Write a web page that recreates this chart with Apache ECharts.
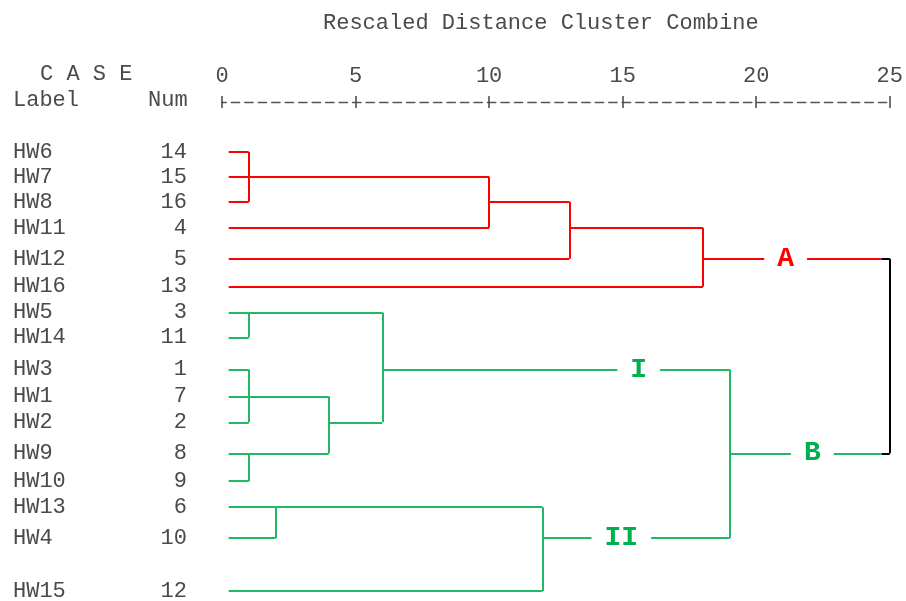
<!DOCTYPE html>
<html>
<head>
<meta charset="utf-8">
<script src="https://cdn.jsdelivr.net/npm/echarts@6/dist/echarts.min.js"></script>
<style>
  html, body { margin: 0; padding: 0; background: #fff; }
  #chart { width: 906px; height: 601px; }
</style>
</head>
<body>
<div id="chart"></div>
<script>
// cases, top to bottom as listed in the dendrogram
const caseLabels = ['HW6', 'HW7', 'HW8', 'HW11', 'HW12', 'HW16', 'HW5', 'HW14', 'HW3', 'HW1', 'HW2', 'HW9', 'HW10', 'HW13', 'HW4', 'HW15'];
const caseNums = [14, 15, 16, 4, 5, 13, 3, 11, 1, 7, 2, 8, 9, 6, 10, 12];
// row position of each case (text lines below the scale line)
const rowPos = [2.0, 3.0, 4.0, 5.04, 6.28, 7.4, 8.44, 9.44, 10.72, 11.8, 12.84, 14.08, 15.2, 16.24, 17.48, 19.6];
// which big cluster each case ends up in
const caseGroup = ['A', 'A', 'A', 'A', 'A', 'A', 'B', 'B', 'B', 'B', 'B', 'B', 'B', 'B', 'B', 'B'];

// merge steps: children (case index or 'mN'), rescaled distance, row the joined line leaves from
const mergeKids = [[0, 1, 2], [6, 7], [8, 9, 10], [11, 12], [13, 14], ['m2', 'm3'], ['m1', 'm5'], ['m0', 3], ['m4', 15], ['m7', 4], ['m9', 5], ['m6', 'm8'], ['m10', 'm11']];
const mergeDist = [1, 1, 1, 1, 2, 4, 6, 10, 12, 13, 18, 19, 25];
const mergeOutRow = [1, 6, 9, 11, 13, 10, 8, 2, 14, 3, 4, 11, null];
const mergeGroup = ['A', 'B', 'B', 'B', 'B', 'B', 'B', 'A', 'B', 'A', 'A', 'B', 'root'];

// cluster tags written on the joining lines
const tagNames = ['A', 'B', 'I', 'II'];
const tagMerge = ['m10', 'm11', 'm6', 'm8'];
const tagDist = [21.1, 22.1, 15.6, 14.95];

const xTicks = [0, 5, 10, 15, 20, 25];
const leafStart = 0.25;

const groupColor = { A: '#ff0000', B: '#22b863', root: '#000000' };
const tagColor = { A: '#ff0000', B: '#00b050' };
const textColor = '#4a4a4a';
const mono = 'Liberation Mono';

function nodeY(k) {
  if (typeof k === 'number') return rowPos[k];
  return rowPos[mergeOutRow[+k.slice(1)]];
}
function nodeX(k) {
  if (typeof k === 'number') return leafStart;
  return mergeDist[+k.slice(1)];
}
function nodeGroup(k) {
  if (typeof k === 'number') return caseGroup[k];
  return mergeGroup[+k.slice(1)];
}

function buildSegments() {
  const segs = [];
  mergeKids.forEach((kids, i) => {
    const d = mergeDist[i];
    const isRoot = mergeGroup[i] === 'root';
    const ys = kids.map(nodeY);
    kids.forEach(k => {
      const y = nodeY(k);
      const end = isRoot ? d - 0.3 : d;
      segs.push({ coords: [[nodeX(k), y], [end, y]], lineStyle: { color: groupColor[nodeGroup(k)] } });
      if (isRoot) {
        segs.push({ coords: [[end, y], [d, y]], lineStyle: { color: groupColor.root } });
      }
    });
    segs.push({
      coords: [[d, Math.min(...ys)], [d, Math.max(...ys)]],
      lineStyle: { color: groupColor[mergeGroup[i]] }
    });
  });
  return segs;
}

const chart = echarts.init(document.getElementById('chart'));

const tickAxisBase = {
  type: 'value',
  position: 'top',
  min: 0,
  max: 25,
  interval: 5,
  splitLine: { show: false }
};

const option = {
  animation: false,
  backgroundColor: '#fff',
  title: {
    text: 'Rescaled Distance Cluster Combine',
    left: 318,
    top: 7,
    textStyle: { fontFamily: mono, fontSize: 22, fontWeight: 'normal', color: textColor }
  },
  graphic: [
    { type: 'text', left: 40, top: 63, style: { text: 'C A S E', font: '22px "Liberation Mono"', fill: textColor } },
    { type: 'text', left: 13, top: 89, style: { text: 'Label', font: '22px "Liberation Mono"', fill: textColor } },
    { type: 'text', left: 148, top: 89, style: { text: 'Num', font: '22px "Liberation Mono"', fill: textColor } }
  ],
  grid: { left: 222, right: 10, top: 102, height: 500 },
  xAxis: [
    Object.assign({}, tickAxisBase, {
      axisLine: { show: true, lineStyle: { color: '#555', width: 1.3, type: [8.5, 4.98], dashOffset: 4.25 } },
      axisTick: { show: true, length: 6, lineStyle: { color: '#444', width: 1.5 } },
      axisLabel: {
        show: true,
        margin: 15,
        fontFamily: mono,
        fontSize: 22,
        color: textColor,
        formatter: v => (xTicks.indexOf(v) >= 0 ? String(v) : '')
      }
    }),
    Object.assign({}, tickAxisBase, {
      axisLine: { show: false },
      axisTick: { show: true, inside: true, length: 6, lineStyle: { color: '#444', width: 1.5 } },
      axisLabel: { show: false }
    })
  ],
  yAxis: {
    type: 'value',
    inverse: true,
    min: 0,
    max: 20,
    show: false
  },
  series: [
    {
      type: 'lines',
      coordinateSystem: 'cartesian2d',
      xAxisIndex: 0,
      z: 2,
      lineStyle: { width: 2, opacity: 1 },
      data: buildSegments()
    },
    {
      name: 'caseLabel',
      type: 'scatter',
      xAxisIndex: 0,
      symbolSize: 0,
      clip: false,
      z: 3,
      itemStyle: { opacity: 1 },
      data: caseLabels.map((name, i) => ({ name, value: [0, rowPos[i]] })),
      label: {
        show: true,
        position: 'inside',
        align: 'left',
        offset: [-209, 0],
        fontFamily: mono,
        fontSize: 22,
        color: textColor,
        formatter: p => p.name
      }
    },
    {
      name: 'caseNum',
      type: 'scatter',
      xAxisIndex: 0,
      symbolSize: 0,
      clip: false,
      z: 3,
      itemStyle: { opacity: 1 },
      data: caseNums.map((n, i) => ({ name: String(n), value: [0, rowPos[i]] })),
      label: {
        show: true,
        position: 'inside',
        align: 'right',
        offset: [-35, 0],
        fontFamily: mono,
        fontSize: 22,
        color: textColor,
        formatter: p => p.name
      }
    },
    {
      name: 'clusterTag',
      type: 'scatter',
      xAxisIndex: 0,
      symbolSize: 0,
      clip: false,
      z: 5,
      itemStyle: { opacity: 1 },
      data: tagNames.map((t, i) => {
        const m = +tagMerge[i].slice(1);
        return {
          name: t,
          value: [tagDist[i], rowPos[mergeOutRow[m]]],
          label: { color: tagColor[mergeGroup[m]] }
        };
      }),
      label: {
        show: true,
        position: 'inside',
        fontFamily: mono,
        fontSize: 28,
        fontWeight: 'bold',
        backgroundColor: '#fff',
        padding: [4, 13],
        formatter: p => p.name
      }
    }
  ]
};

chart.setOption(option);
</script>
</body>
</html>
